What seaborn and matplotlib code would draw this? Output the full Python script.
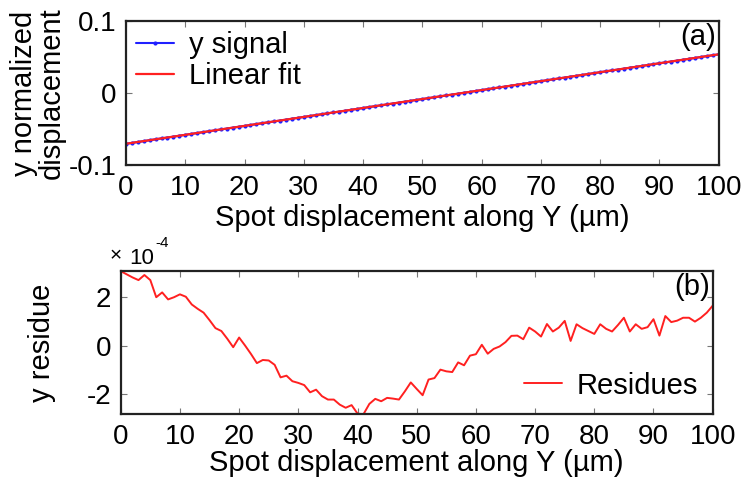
import numpy as np
import pandas as pd
import matplotlib
matplotlib.use("Agg")
import matplotlib.pyplot as plt
import seaborn as sns

# ---- data ----
x_um = list(range(0, 101))
y_signal = [-0.0705, -0.0693, -0.0680, -0.0668, -0.0655, -0.0643, -0.0630, -0.0618, -0.0606, -0.0593,
            -0.0581, -0.0568, -0.0556, -0.0544, -0.0531, -0.0519, -0.0506, -0.0494, -0.0481, -0.0469,
            -0.0457, -0.0444, -0.0432, -0.0419, -0.0407, -0.0395, -0.0382, -0.0370, -0.0357, -0.0345,
            -0.0332, -0.0320, -0.0308, -0.0295, -0.0283, -0.0270, -0.0258, -0.0246, -0.0233, -0.0221,
            -0.0208, -0.0196, -0.0183, -0.0171, -0.0159, -0.0146, -0.0134, -0.0121, -0.0109, -0.0096,
            -0.0084, -0.0072, -0.0059, -0.0047, -0.0034, -0.0022, -0.0010, 0.0003, 0.0015, 0.0028,
            0.0040, 0.0053, 0.0065, 0.0077, 0.0090, 0.0102, 0.0115, 0.0127, 0.0140, 0.0152,
            0.0164, 0.0177, 0.0189, 0.0202, 0.0214, 0.0227, 0.0239, 0.0251, 0.0264, 0.0276,
            0.0289, 0.0301, 0.0313, 0.0326, 0.0338, 0.0351, 0.0363, 0.0375, 0.0388, 0.0400,
            0.0413, 0.0425, 0.0437, 0.0450, 0.0462, 0.0475, 0.0487, 0.0500, 0.0512, 0.0524,
            0.0537]
fit_x = [0, 100]
fit_y = [-0.0705, 0.0537]
# residues in units of 1e-4
residues = [3.08, 2.95, 2.82, 2.71, 2.92, 2.71, 2.00, 2.20, 1.91, 2.00,
            2.12, 2.02, 1.70, 1.52, 1.36, 1.05, 0.72, 0.60, 0.28, -0.07,
            0.33, 0.00, -0.35, -0.73, -0.60, -0.62, -0.80, -1.32, -1.25, -1.48,
            -1.55, -1.64, -1.94, -1.83, -2.10, -2.24, -2.24, -2.45, -2.58, -2.47,
            -2.82, -2.85, -2.42, -2.21, -2.31, -2.17, -2.20, -2.24, -1.90, -1.53,
            -1.80, -2.06, -1.41, -1.35, -1.00, -1.07, -1.10, -0.70, -0.82, -0.42,
            -0.36, 0.03, -0.34, -0.14, -0.04, 0.14, 0.40, 0.41, 0.26, 0.74,
            0.58, 0.37, 0.89, 0.58, 0.74, 1.02, 0.19, 0.88, 0.72, 0.60,
            0.48, 0.88, 0.69, 0.58, 0.85, 1.15, 0.58, 0.88, 0.69, 0.76,
            1.09, 0.41, 1.22, 0.97, 1.03, 1.15, 1.15, 0.99, 1.15, 1.36,
            1.65]
x_ticks = [0, 10, 20, 30, 40, 50, 60, 70, 80, 90, 100]
top_yticks = [-0.1, 0, 0.1]
top_yticklabels = ["-0.1", "0", "0.1"]
bot_yticks = [-2, 0, 2]
bot_yticklabels = ["-2", "0", "2"]

sns.set_theme(style="ticks")
plt.rcParams['font.family'] = ['Liberation Sans', 'DejaVu Sans']
plt.rcParams['text.color'] = 'black'
plt.rcParams['axes.labelcolor'] = 'black'
FS = 20      # tick labels
LFS = 21     # axis labels, legend

fig = plt.figure(figsize=(7.48, 4.79), dpi=100)
ax1 = fig.add_axes([0.1684, 0.6555, 0.7924, 0.3007])
ax2 = fig.add_axes([0.1614, 0.1351, 0.7914, 0.2998])

df_sig = pd.DataFrame({"x": x_um, "y": y_signal})
df_fit = pd.DataFrame({"x": fit_x, "y": fit_y})
df_res = pd.DataFrame({"x": x_um, "r": residues})

sns.lineplot(data=df_sig, x="x", y="y", ax=ax1, color="#2020ff", marker="o",
             markersize=3, markeredgewidth=0, linewidth=1.5, label="y signal")
sns.lineplot(data=df_fit, x="x", y="y", ax=ax1, color="#ff2020", linewidth=1.6,
             label="Linear fit")
sns.lineplot(data=df_res, x="x", y="r", ax=ax2, color="#ff2020", linewidth=1.4,
             label="Residues")

for ax in (ax1, ax2):
    ax.set_xlim(0, 100)
    ax.set_xticks(x_ticks)
    ax.set_xticklabels([str(t) for t in x_ticks], fontsize=FS)
    ax.tick_params(direction="in", top=True, right=True, length=4, width=0.8,
                   color="#777777", labelcolor="black", pad=7)
    for s in ax.spines.values():
        s.set_linewidth(1.6)
        s.set_color("#222222")

ax1.set_xlabel("Spot displacement along Y (\u00b5m)", fontsize=LFS, labelpad=2)
ax2.set_xlabel("Spot displacement along Y (\u00b5m)", fontsize=LFS, labelpad=-1)

ax1.set_ylim(-0.1, 0.1)
ax1.set_yticks(top_yticks)
ax1.set_yticklabels(top_yticklabels, fontsize=FS)
ax1.set_ylabel("y normalized\ndisplacement", fontsize=LFS, labelpad=2, linespacing=1.0)
ax1.legend(loc="upper left", frameon=False, fontsize=LFS, handlelength=1.3,
           borderaxespad=0.1, labelspacing=0.1, handletextpad=0.5,
           borderpad=0.25)
ax1.text(0.995, 0.985, "(a)", transform=ax1.transAxes, ha="right", va="top", fontsize=LFS)

ax2.set_ylim(-2.85, 3.1)
ax2.set_yticks(bot_yticks)
ax2.set_yticklabels(bot_yticklabels, fontsize=FS)
ax2.set_ylabel("y residue", fontsize=LFS, labelpad=22)
ax2.legend(loc="lower right", frameon=False, fontsize=LFS, handlelength=1.3,
           borderaxespad=0.3, handletextpad=0.5, borderpad=0.2)
ax2.text(0.995, 0.985, "(b)", transform=ax2.transAxes, ha="right", va="top", fontsize=LFS)

# "x 10^-4" multiplier
fig.text(116 / 748, 1 - 256 / 479, "\u00d7", ha="center", va="center", fontsize=15)
fig.text(129 / 748, 1 - 264 / 479, "10", ha="left", va="baseline", fontsize=16)
fig.text(155 / 748, 1 - 243 / 479, "-4", ha="left", va="center", fontsize=11)

fig.savefig("out.png", dpi=100)
